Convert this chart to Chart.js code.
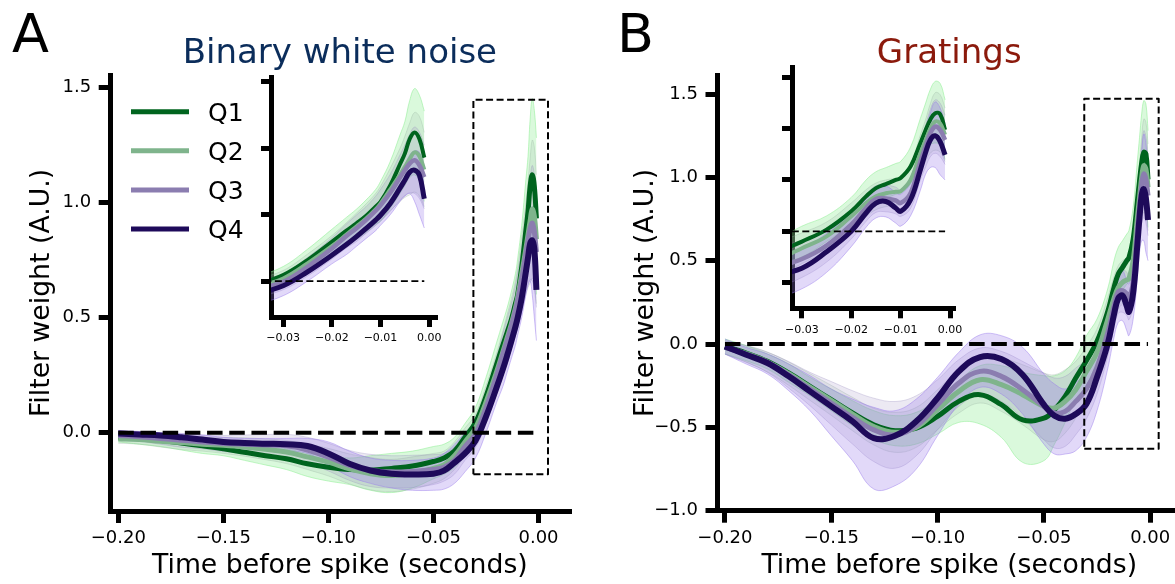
<!DOCTYPE html>
<html>
<head>
<meta charset="utf-8">
<script src="https://cdn.jsdelivr.net/npm/chart.js@4.4.1/dist/chart.umd.min.js"></script>
<style>
  html, body { margin: 0; padding: 0; background: #fff; overflow: hidden; width: 1175px; height: 584px; }
  canvas { position: absolute; }
</style>
</head>
<body>
<canvas id="mainA" width="590" height="584" style="left:0px;top:0px;width:590px;height:584px"></canvas>
<canvas id="mainB" width="590" height="584" style="left:600px;top:0px;width:590px;height:584px"></canvas>
<canvas id="insetA" width="260" height="300" style="left:200px;top:60px;width:260px;height:300px"></canvas>
<canvas id="insetB" width="260" height="300" style="left:720px;top:50px;width:260px;height:300px"></canvas>
<script>
const FONT = 'DejaVu Sans';

// time before spike (s), shared by every series
const timePoints = [-0.20, -0.19, -0.18, -0.17, -0.16, -0.15, -0.14, -0.13, -0.12, -0.11,
  -0.10, -0.09, -0.08, -0.07, -0.06, -0.05, -0.045, -0.04, -0.035, -0.03,
  -0.025, -0.02, -0.017, -0.015, -0.013, -0.011, -0.01, -0.008, -0.006, -0.005,
  -0.004, -0.003, -0.002, -0.001];

const seriesNames = ['Q1', 'Q2', 'Q3', 'Q4'];
const lineColors = ['#00641e', '#7fb48c', '#8b7db0', '#1e0a5a'];
const bandFill = ['rgba(144,238,150,0.33)', 'rgba(150,175,160,0.18)', 'rgba(150,135,190,0.18)', 'rgba(150,120,235,0.28)'];
const bandEdge = ['rgba(144,238,150,0.55)', 'rgba(150,175,160,0.3)', 'rgba(150,135,190,0.3)', 'rgba(150,120,235,0.45)'];

/* --- Panel A: binary white noise --- */
const q1A = [-0.02, -0.025, -0.033, -0.045, -0.057, -0.07, -0.085, -0.1, -0.113, -0.135,
  -0.15, -0.16, -0.163, -0.155, -0.145, -0.125, -0.11, -0.08, -0.02, 0.045,
  0.158, 0.296, 0.38, 0.434, 0.49, 0.56, 0.596, 0.72, 0.88, 0.96, 1.07, 1.12, 1.07, 0.93];
const q2A = [-0.026, -0.03, -0.037, -0.043, -0.05, -0.055, -0.062, -0.072, -0.084, -0.105,
  -0.128, -0.157, -0.178, -0.186, -0.175, -0.155, -0.14, -0.1, -0.04, 0.02,
  0.133, 0.263, 0.35, 0.41, 0.47, 0.54, 0.584, 0.69, 0.8, 0.86, 0.92, 0.97, 0.94, 0.84];
const q3A = [-0.012, -0.018, -0.025, -0.033, -0.04, -0.047, -0.05, -0.053, -0.057, -0.075,
  -0.106, -0.142, -0.164, -0.17, -0.168, -0.16, -0.15, -0.12, -0.06, -0.005,
  0.108, 0.246, 0.34, 0.396, 0.46, 0.53, 0.571, 0.665, 0.78, 0.835, 0.885, 0.91, 0.872, 0.784];
const q4A = [-0.004, -0.008, -0.012, -0.02, -0.03, -0.04, -0.045, -0.048, -0.05, -0.058,
  -0.09, -0.135, -0.164, -0.178, -0.181, -0.178, -0.165, -0.13, -0.09, -0.035,
  0.07, 0.195, 0.275, 0.333, 0.395, 0.46, 0.496, 0.585, 0.7, 0.76, 0.82, 0.835, 0.797, 0.62];
const lo1A = [-0.04, -0.05, -0.06, -0.075, -0.09, -0.1, -0.12, -0.14, -0.16, -0.19,
  -0.21, -0.225, -0.25, -0.26, -0.24, -0.2, -0.18, -0.15, -0.09, -0.03,
  0.08, 0.2, 0.27, 0.32, 0.37, 0.43, 0.45, 0.55, 0.66, 0.72, 0.78, 0.8, 0.76, 0.6];
const hi1A = [0.0, -0.005, -0.01, -0.02, -0.03, -0.04, -0.05, -0.06, -0.07, -0.09,
  -0.1, -0.11, -0.1, -0.09, -0.08, -0.06, -0.05, -0.02, 0.04, 0.11,
  0.24, 0.39, 0.48, 0.54, 0.61, 0.69, 0.75, 0.9, 1.1, 1.2, 1.36, 1.45, 1.4, 1.28];
const lo4A = [-0.02, -0.025, -0.03, -0.04, -0.05, -0.06, -0.07, -0.075, -0.08, -0.09,
  -0.14, -0.19, -0.22, -0.24, -0.25, -0.25, -0.245, -0.22, -0.17, -0.11,
  0.0, 0.13, 0.2, 0.26, 0.32, 0.38, 0.42, 0.5, 0.6, 0.64, 0.66, 0.6, 0.5, 0.4];
const hi4A = [0.01, 0.005, 0.0, -0.005, -0.01, -0.02, -0.025, -0.025, -0.025, -0.025,
  -0.04, -0.08, -0.11, -0.12, -0.12, -0.11, -0.09, -0.05, 0.0, 0.04,
  0.14, 0.26, 0.34, 0.4, 0.47, 0.54, 0.58, 0.67, 0.8, 0.87, 0.95, 0.98, 0.97, 0.85];
// half-widths of the Q2 / Q3 error bands
const spreadA2 = [0.02, 0.02, 0.025, 0.03, 0.03, 0.035, 0.04, 0.045, 0.05, 0.055,
  0.06, 0.065, 0.07, 0.07, 0.07, 0.065, 0.06, 0.06, 0.06, 0.06,
  0.07, 0.08, 0.09, 0.1, 0.11, 0.12, 0.13, 0.16, 0.2, 0.23, 0.27, 0.3, 0.3, 0.28];
const spreadA3 = [0.02, 0.02, 0.025, 0.03, 0.03, 0.035, 0.04, 0.045, 0.05, 0.055,
  0.06, 0.065, 0.07, 0.07, 0.07, 0.065, 0.06, 0.06, 0.06, 0.06,
  0.07, 0.08, 0.09, 0.1, 0.1, 0.11, 0.12, 0.14, 0.17, 0.19, 0.22, 0.25, 0.25, 0.24];

/* --- Panel B: gratings --- */
const q1B = [-0.014, -0.054, -0.104, -0.174, -0.254, -0.334, -0.414, -0.484, -0.52, -0.504,
  -0.434, -0.344, -0.304, -0.364, -0.455, -0.445, -0.394, -0.314, -0.204, -0.1,
  0.016, 0.194, 0.34, 0.42, 0.46, 0.5, 0.518, 0.63, 0.86, 0.98, 1.087, 1.15, 1.14, 0.987];
const q2B = [-0.02, -0.058, -0.108, -0.178, -0.258, -0.338, -0.42, -0.495, -0.53, -0.5,
  -0.394, -0.284, -0.214, -0.244, -0.304, -0.374, -0.384, -0.344, -0.274, -0.165,
  -0.05, 0.146, 0.275, 0.34, 0.37, 0.385, 0.39, 0.5, 0.76, 0.88, 1.0, 1.07, 1.05, 0.94];
const q3B = [-0.02, -0.06, -0.11, -0.185, -0.27, -0.355, -0.44, -0.515, -0.545, -0.49,
  -0.364, -0.234, -0.164, -0.194, -0.274, -0.374, -0.414, -0.404, -0.344, -0.27,
  -0.14, 0.065, 0.227, 0.314, 0.32, 0.3, 0.275, 0.372, 0.68, 0.82, 0.955, 1.02, 0.987, 0.89];
const q4B = [-0.014, -0.064, -0.114, -0.194, -0.284, -0.374, -0.464, -0.565, -0.55, -0.464,
  -0.324, -0.164, -0.078, -0.09, -0.184, -0.364, -0.43, -0.448, -0.42, -0.36,
  -0.2, 0.0, 0.178, 0.275, 0.29, 0.227, 0.194, 0.307, 0.6, 0.76, 0.89, 0.93, 0.874, 0.744];
const lo1B = [-0.06, -0.1, -0.15, -0.23, -0.31, -0.4, -0.49, -0.57, -0.61, -0.6,
  -0.54, -0.47, -0.48, -0.56, -0.71, -0.7, -0.6, -0.47, -0.33, -0.25,
  -0.1, 0.07, 0.2, 0.28, 0.32, 0.36, 0.37, 0.46, 0.66, 0.76, 0.84, 0.86, 0.84, 0.7];
const hi1B = [0.03, -0.01, -0.06, -0.12, -0.2, -0.27, -0.34, -0.4, -0.43, -0.41,
  -0.33, -0.22, -0.13, -0.13, -0.17, -0.19, -0.19, -0.16, -0.08, 0.05,
  0.15, 0.33, 0.5, 0.58, 0.62, 0.66, 0.68, 0.82, 1.1, 1.24, 1.38, 1.46, 1.44, 1.28];
const lo4B = [-0.06, -0.12, -0.18, -0.28, -0.4, -0.55, -0.7, -0.87, -0.85, -0.75,
  -0.55, -0.36, -0.26, -0.3, -0.42, -0.6, -0.66, -0.66, -0.64, -0.56,
  -0.4, -0.15, 0.04, 0.13, 0.14, 0.08, 0.05, 0.15, 0.4, 0.55, 0.62, 0.62, 0.55, 0.5];
const hi4B = [0.03, -0.02, -0.06, -0.12, -0.19, -0.27, -0.33, -0.38, -0.4, -0.33,
  -0.2, -0.05, 0.055, 0.05, -0.02, -0.18, -0.24, -0.27, -0.23, -0.17,
  -0.02, 0.17, 0.32, 0.42, 0.44, 0.38, 0.36, 0.48, 0.82, 0.98, 1.15, 1.26, 1.2, 1.05];
const spreadB2 = [0.04, 0.05, 0.06, 0.07, 0.08, 0.09, 0.1, 0.11, 0.12, 0.12,
  0.12, 0.13, 0.14, 0.16, 0.18, 0.2, 0.2, 0.19, 0.17, 0.15,
  0.14, 0.13, 0.13, 0.13, 0.13, 0.13, 0.13, 0.15, 0.18, 0.2, 0.24, 0.28, 0.28, 0.26];
const spreadB3 = [0.04, 0.05, 0.06, 0.08, 0.1, 0.13, 0.16, 0.19, 0.2, 0.18,
  0.15, 0.14, 0.14, 0.15, 0.17, 0.2, 0.21, 0.21, 0.2, 0.18,
  0.16, 0.14, 0.13, 0.13, 0.13, 0.13, 0.13, 0.15, 0.18, 0.2, 0.23, 0.26, 0.26, 0.24];

// zoom boxes drawn on the main panels [x0, x1], [y0, y1]
const boxXA = [-0.031, 0.0045], boxYA = [-0.18, 1.446];
const boxXB = [-0.031, 0.004],  boxYB = [-0.628, 1.472];

// tick positions
const xTicksMain = [-0.20, -0.15, -0.10, -0.05, 0.0];
const yTicksA = [0.0, 0.5, 1.0, 1.5];
const yTicksB = [-1.0, -0.5, 0.0, 0.5, 1.0, 1.5];
const xTicksInset = [-0.03, -0.02, -0.01, 0.0];
const yTicksInsetA = [0.0, 0.5, 1.0, 1.5];
const yTicksInsetB = [-0.5, 0.0, 0.5, 1.0, 1.5];

/* --- helpers --- */
const pts = ys => timePoints.map((x, i) => ({ x: x, y: ys[i] }));
const shift = (ys, d, sign) => ys.map((v, i) => v + sign * d[i]);
const fmt = dec => v => (v < -1e-9 ? '\u2212' : '') + Math.abs(v).toFixed(dec);

function panelSeries(q, bands) {
  return { lines: q, bands: bands };
}

const panelA = panelSeries([q1A, q2A, q3A, q4A], [
  [lo1A, hi1A],
  [shift(q2A, spreadA2, -1), shift(q2A, spreadA2, 1)],
  [shift(q3A, spreadA3, -1), shift(q3A, spreadA3, 1)],
  [lo4A, hi4A]
]);
const panelB = panelSeries([q1B, q2B, q3B, q4B], [
  [lo1B, hi1B],
  [shift(q2B, spreadB2, -1), shift(q2B, spreadB2, 1)],
  [shift(q3B, spreadB3, -1), shift(q3B, spreadB3, 1)],
  [lo4B, hi4B]
]);

function buildDatasets(panel, opt) {
  const out = [];
  // error bands (drawn below every line)
  for (let i = 0; i < 4; i++) {
    const [lo, hi] = panel.bands[i];
    out.push({ data: pts(lo), borderColor: bandEdge[i], borderWidth: 1, fill: false, order: 8 - i });
    out.push({ data: pts(hi), borderColor: bandEdge[i], borderWidth: 1, backgroundColor: bandFill[i], fill: '-1', order: 8 - i });
  }
  // mean filters, Q4 on top
  for (let i = 0; i < 4; i++) {
    out.push({ label: seriesNames[i], data: pts(panel.lines[i]), borderColor: lineColors[i],
      borderWidth: opt.lineW[i], fill: false, order: 4 - i });
  }
  // zero reference
  out.push({ data: [{ x: timePoints[0], y: 0 }, { x: timePoints[timePoints.length - 1], y: 0 }],
    borderColor: '#000', borderWidth: opt.zeroW, borderDash: opt.zeroDash, fill: false,
    tension: 0, order: 0 });
  if (opt.box) {
    const [bx, by] = opt.box;
    out.push({ data: [{ x: bx[0], y: by[0] }, { x: bx[1], y: by[0] }, { x: bx[1], y: by[1] },
      { x: bx[0], y: by[1] }, { x: bx[0], y: by[0] }],
      borderColor: '#000', borderWidth: 2, borderDash: [7, 3.5], fill: false,
      tension: 0, order: 0 });
  }
  return out;
}

function xAxis(c) {
  return {
    type: 'linear', min: c.min, max: c.max, offset: false,
    afterBuildTicks: s => { s.ticks = c.ticks.map(v => ({ value: v })); },
    afterFit: s => { s.height = c.size; s.paddingLeft = 0; s.paddingRight = 0; },
    ticks: { callback: fmt(2), color: '#000', font: { family: FONT, size: c.font },
      padding: c.pad, autoSkip: false, maxRotation: 0, minRotation: 0 },
    grid: { drawOnChartArea: false, drawTicks: true, tickLength: c.tick, tickWidth: c.tickW,
      tickColor: '#000', lineWidth: c.tickW, color: '#000' },
    border: { display: true, color: '#000', width: c.spine },
    title: c.title ? { display: true, text: c.title, color: '#000', font: { family: FONT, size: 26.7 },
      padding: { top: 0, bottom: c.titlePad } } : { display: false }
  };
}

function yAxis(c) {
  return {
    type: 'linear', min: c.min, max: c.max,
    afterBuildTicks: s => { s.ticks = c.ticks.map(v => ({ value: v })); },
    afterFit: s => { s.width = c.size; s.paddingTop = 0; s.paddingBottom = 0; },
    ticks: { display: c.labels, callback: fmt(1), color: '#000', font: { family: FONT, size: 18 },
      padding: 7.5, autoSkip: false },
    grid: { drawOnChartArea: false, drawTicks: true, tickLength: c.tick, tickWidth: c.tickW,
      tickColor: '#000', lineWidth: c.tickW, color: '#000' },
    border: { display: true, color: '#000', width: c.spine },
    title: c.title ? { display: true, text: c.title, color: '#000', font: { family: FONT, size: 26.7 },
      padding: { top: c.titlePad, bottom: 0 } } : { display: false }
  };
}

// panel letter + (optional) legend
function decorPlugin(letter, lx, withLegend) {
  return {
    id: 'decor' + letter,
    afterDraw(chart) {
      const ctx = chart.ctx;
      ctx.save();
      ctx.fillStyle = '#000';
      ctx.textBaseline = 'alphabetic';
      ctx.textAlign = 'left';
      ctx.font = '54px "' + FONT + '"';
      ctx.fillText(letter, lx, 52);
      if (withLegend) {
        ctx.font = '25px "' + FONT + '"';
        seriesNames.forEach((name, i) => {
          const y = 111.7 + i * 39.1;
          ctx.strokeStyle = lineColors[i];
          ctx.lineWidth = 5;
          ctx.beginPath();
          ctx.moveTo(131, y);
          ctx.lineTo(189, y);
          ctx.stroke();
          ctx.fillText(name, 208, y + 9.1);
        });
      }
      ctx.restore();
    }
  };
}

function baseOptions(extra) {
  return Object.assign({
    responsive: false, animation: false, devicePixelRatio: 1, events: [],
    elements: { point: { radius: 0 }, line: { tension: 0.4, borderJoinStyle: 'round' } }
  }, extra);
}

/* --- main panels --- */
new Chart(document.getElementById('mainA'), {
  type: 'line',
  data: { datasets: buildDatasets(panelA, { lineW: [5, 5, 5, 6], zeroW: 4, zeroDash: [15.5, 6.7], box: [boxXA, boxYA] }) },
  options: baseOptions({
    layout: { padding: { left: 0, top: 33.4, right: 21, bottom: 0 } },
    plugins: {
      legend: { display: false }, tooltip: { enabled: false },
      title: { display: true, text: 'Binary white noise', color: '#0b2d5b', fullSize: false,
        font: { family: FONT, size: 34, weight: 'normal' }, padding: { top: 0, bottom: 0.8 } }
    },
    scales: {
      x: xAxis({ min: -0.2036, max: 0.0145, ticks: xTicksMain, size: 73, font: 18, pad: 5,
        tick: 12, tickW: 5, spine: 5, title: 'Time before spike (seconds)', titlePad: 2.0 }),
      y: yAxis({ min: -0.34, max: 1.553, ticks: yTicksA, size: 110.7, labels: true,
        tick: 12, tickW: 5, spine: 5, title: 'Filter weight (A.U.)', titlePad: 26 })
    }
  }),
  plugins: [decorPlugin('A', 12, true)]
});

new Chart(document.getElementById('mainB'), {
  type: 'line',
  data: { datasets: buildDatasets(panelB, { lineW: [5, 5, 5, 6], zeroW: 4, zeroDash: [15.5, 6.7], box: [boxXB, boxYB] }) },
  options: baseOptions({
    layout: { padding: { left: 0, top: 33.4, right: 9, bottom: 0 } },
    plugins: {
      legend: { display: false }, tooltip: { enabled: false },
      title: { display: true, text: 'Gratings', color: '#8b1a0c', fullSize: false,
        font: { family: FONT, size: 34, weight: 'normal' }, padding: { top: 0, bottom: 0.8 } }
    },
    scales: {
      x: xAxis({ min: -0.2035, max: 0.0145, ticks: xTicksMain, size: 73.3, font: 18, pad: 5,
        tick: 12, tickW: 5, spine: 5, title: 'Time before spike (seconds)', titlePad: 2.0 }),
      y: yAxis({ min: -1.0, max: 1.614, ticks: yTicksB, size: 117.5, labels: true,
        tick: 12, tickW: 5, spine: 5, title: 'Filter weight (A.U.)', titlePad: 30 })
    }
  }),
  plugins: [decorPlugin('B', 17, false)]
});

/* --- insets (zoom on the last 30 ms) --- */
function insetChart(id, panel, c) {
  new Chart(document.getElementById(id), {
    type: 'line',
    data: { datasets: buildDatasets(panel, { lineW: [4, 4, 4.5, 5], zeroW: 1.8, zeroDash: [7, 3.5], box: null }) },
    options: baseOptions({
      layout: { padding: { left: 0, top: 17, right: c.right, bottom: 0 } },
      plugins: { legend: { display: false }, tooltip: { enabled: false } },
      scales: {
        x: xAxis({ min: c.xmin, max: c.xmax, ticks: xTicksInset, size: c.xsize, font: 11, pad: 4.8,
          tick: 10, tickW: 5, spine: 5 }),
        y: yAxis({ min: c.ymin, max: c.ymax, ticks: c.yticks, size: c.ysize, labels: false,
          tick: 10, tickW: 5, spine: 5 })
      }
    })
  });
}

insetChart('insetA', panelA, { xmin: -0.0325, xmax: 0.0012, ymin: -0.27, ymax: 1.537,
  yticks: yTicksInsetA, right: 25, xsize: 43, ysize: 71 });
insetChart('insetB', panelB, { xmin: -0.032, xmax: 0.0006, ymin: -0.75, ymax: 1.6,
  yticks: yTicksInsetB, right: 27, xsize: 41.7, ysize: 72 });
</script>
</body>
</html>
